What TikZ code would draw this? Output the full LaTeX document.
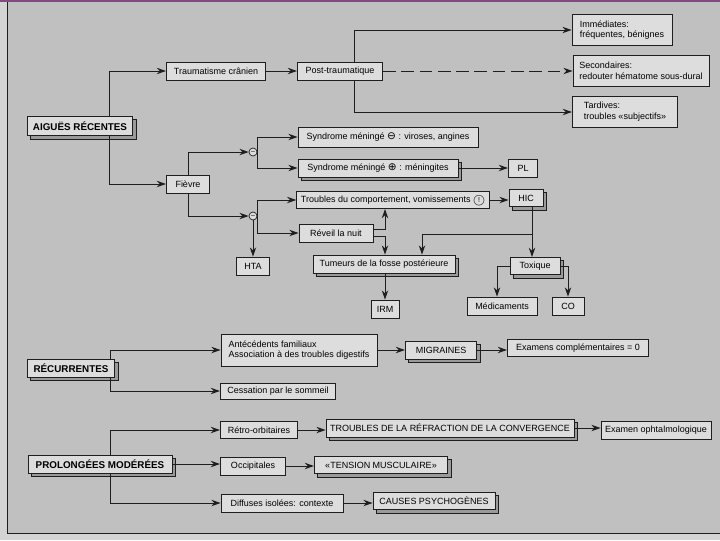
\documentclass[tikz,border=0pt]{standalone}
\usepackage{fontspec}
\setmainfont{Liberation Sans}
\newfontfamily\symboles{DejaVu Sans}
\usetikzlibrary{arrows.meta,shadows}

\definecolor{fond}{HTML}{C0C0C0}
\definecolor{marge}{HTML}{D4D4D4}
\definecolor{boite}{HTML}{DDDDDD}
\definecolor{ombre}{HTML}{9A9A9A}
\definecolor{trait}{HTML}{1E1E1E}

\newcommand\cercle[1]{{\symboles\fontsize{7.5}{7.5}\selectfont#1}}
\newcommand\alerte{\ooalign{\raisebox{-.2ex}{\fontsize{8.5}{8.5}\selectfont$\bigcirc$}\cr\hidewidth\raisebox{.1ex}{\fontsize{5}{5}\selectfont!}\hidewidth\cr}}

\begin{document}
\begin{tikzpicture}[
    x=0.025cm, y=-0.025cm,
    font=\fontsize{6.4}{7.6}\selectfont,
    boite/.style={
        rectangle,
        draw=trait,
        fill=boite,
        line width=0.6pt,
        align=left,
        minimum height=0.45cm,
        inner xsep=3pt,
        inner ysep=1pt
    },
    relief/.style={
        boite,
        copy shadow={shadow xshift=2.4pt, shadow yshift=-2.4pt,
            fill=ombre, draw=trait, line width=0.5pt}
    },
    titre/.style={
        relief,
        font=\fontsize{7}{8}\selectfont\bfseries
    },
    signe/.style={
        circle,
        draw=trait,
        fill=boite,
        line width=0.5pt,
        inner sep=0pt,
        minimum size=0.2cm,
        font=\fontsize{5}{5}\selectfont
    },
    fleche/.style={
        draw=trait,
        line width=0.7pt,
        -{Stealth[length=2.3mm,width=1.6mm]}
    }
]

\useasboundingbox (0,0) rectangle (720,540);
\fill[fond] (0,0) rectangle (720,540);
\fill[marge] (0,0) rectangle (7,540);
\fill[marge] (0,533) rectangle (720,540);
\draw[trait, line width=0.6pt] (7,0) -- (7,533) -- (720,533);
\draw[violet!40!gray, line width=1pt] (0,1) -- (720,1);

\node[titre, minimum width=2.63cm, minimum height=0.48cm] (aigues) at (80,126) {AIGUËS RÉCENTES};

\node[boite, minimum width=2.48cm] (trauma) at (216,71) {Traumatisme crânien};
\node[boite, minimum width=2.13cm] (post) at (340,71) {Post-traumatique};

\node[boite, minimum width=2.5cm, minimum height=0.78cm] (immed) at (622,30) {
    Immédiates:\\
    fréquentes, bénignes
};
\node[boite, minimum width=3.4cm, minimum height=0.78cm] (second) at (641,71) {
    Secondaires:\\
    redouter hématome sous-dural
};
\node[boite, minimum width=2.63cm, minimum height=0.78cm] (tardives) at (625,112) {
    Tardives:\\
    troubles «subjectifs»
};

\node[boite, minimum width=1.08cm] (fievre) at (188,184) {Fièvre};
\node[signe] (signeA) at (253,152) {--};
\node[signe] (signeB) at (253,216) {--};

\node[boite, minimum width=4.5cm, minimum height=0.5cm] (synA) at (388,137)
    {Syndrome méningé \cercle{⊖} : viroses, angines};
\node[relief, minimum width=4cm] (synB) at (378,168)
    {Syndrome méningé \cercle{⊕} : méningites};
\node[boite, minimum width=0.73cm] (pl) at (523,168) {PL};

\node[boite, minimum width=4.78cm, minimum height=0.43cm] (comport) at (393,200)
    {Troubles du comportement, vomissements \alerte};
\node[relief, minimum width=0.85cm, minimum height=0.43cm] (hic) at (526,198) {HIC};
\node[boite, minimum width=1.85cm] (reveil) at (336,233) {Réveil la nuit};
\node[boite, minimum width=0.83cm] (hta) at (253,266) {HTA};

\node[relief, minimum width=3.55cm] (tumeurs) at (384,264) {Tumeurs de la fosse postérieure};
\node[boite, minimum width=0.7cm] (irm) at (385,309) {IRM};
\node[relief, minimum width=1.25cm, minimum height=0.43cm] (toxique) at (535,266) {Toxique};
\node[boite, minimum width=1.75cm] (medic) at (502,306) {Médicaments};
\node[boite, minimum width=0.8cm] (co) at (568,306) {CO};

\node[titre, minimum width=2.18cm] (recur) at (71,368) {RÉCURRENTES};
\node[boite, minimum width=3.9cm, minimum height=0.8cm] (antec) at (299,350) {
    Antécédents familiaux\\
    Association à des troubles digestifs
};
\node[boite, minimum width=2.88cm, minimum height=0.4cm] (cessation) at (278,391) {Cessation par le sommeil};
\node[relief, minimum width=1.78cm] (migraines) at (441,350) {MIGRAINES};
\node[boite, minimum width=3.53cm, minimum height=0.43cm] (examens) at (578,348) {Examens complémentaires = 0};

\node[titre, minimum width=3.6cm] (prolong) at (100,464) {PROLONGÉES MODÉRÉES};
\node[boite, minimum width=1.93cm, minimum height=0.43cm] (retro) at (259,430) {Rétro-orbitaires};
\node[relief, minimum width=6.05cm] (refraction) at (450,428) {TROUBLES DE LA RÉFRACTION DE LA CONVERGENCE};
\node[boite, minimum width=2.65cm] (ophtalmo) at (656,430) {Examen ophtalmologique};
\node[boite, minimum width=1.63cm] (occip) at (253,466) {Occipitales};
\node[relief, minimum width=3.33cm, minimum height=0.43cm] (tension) at (381,465) {«TENSION MUSCULAIRE»};
\node[boite, minimum width=3.05cm] (diffuses) at (282,503) {Diffuses isolées: contexte};
\node[relief, minimum width=3.05cm, minimum height=0.43cm] (psycho) at (434,501) {CAUSES PSYCHOGÈNES};

\coordinate (ta) at (109,0);
\coordinate (tp) at (354,0);
\coordinate (tr) at (110,0);
\coordinate (xr) at (385,0);
\coordinate (xh) at (532,0);
\coordinate (xt) at (422,0);
\coordinate (xm) at (497,0);
\coordinate (jh) at (532,234);

\draw[fleche] (aigues.north -| ta) |- (trauma.west);
\draw[fleche] (aigues.south -| ta) |- (fievre.west);
\draw[fleche] (trauma.east) -- (post.west);
\draw[fleche] (post.north -| tp) |- (immed.west);
\draw[fleche, dashed, dash pattern=on 9pt off 4pt] (post.east) -- (second.west);
\draw[fleche] (post.south -| tp) |- (tardives.west);

\draw[fleche] (fievre.north) |- (signeA.west);
\draw[fleche] (fievre.south) |- (signeB.west);
\draw[fleche] (signeA.east) |- (synA.west);
\draw[fleche] (signeA.east) |- (synB.west);
\draw[fleche] (synB.east) -- (pl.west);
\draw[fleche] (signeB.east) |- (comport.west);
\draw[fleche] (signeB.east) |- (reveil.west);
\draw[fleche] (signeB.south) -- (hta.north);
\draw[fleche] (comport.east) -- (comport.east -| hic.west);

\draw[fleche] ([yshift=2.8pt]reveil.east) -| (comport.south -| xr);
\draw[fleche] ([yshift=-2.8pt]reveil.east) -| (tumeurs.north -| xr);
\draw[fleche] (tumeurs.south -| irm) -- (irm.north);
\draw[fleche] (hic.south -| xh) -- (toxique.north -| xh);
\draw[fleche] (jh) -| (tumeurs.north -| xt);
\draw[fleche] (toxique.west) -| (medic.north -| xm);
\draw[fleche] (toxique.east) -| (co.north);

\draw[fleche] (recur.north -| tr) |- (antec.west);
\draw[fleche] (recur.south -| tr) |- (cessation.west);
\draw[fleche] (antec.east) -- (migraines.west);
\draw[fleche] (migraines.east) -- (migraines.east -| examens.west);

\draw[fleche] (prolong.north -| tr) |- (retro.west);
\draw[fleche] (prolong.east) -- (prolong.east -| occip.west);
\draw[fleche] (prolong.south -| tr) |- (diffuses.west);
\draw[fleche] (retro.east) -- (retro.east -| refraction.west);
\draw[fleche] (refraction.east) -- (refraction.east -| ophtalmo.west);
\draw[fleche] (occip.east) -- (occip.east -| tension.west);
\draw[fleche] (diffuses.east) -- (diffuses.east -| psycho.west);

\end{tikzpicture}
\end{document}
